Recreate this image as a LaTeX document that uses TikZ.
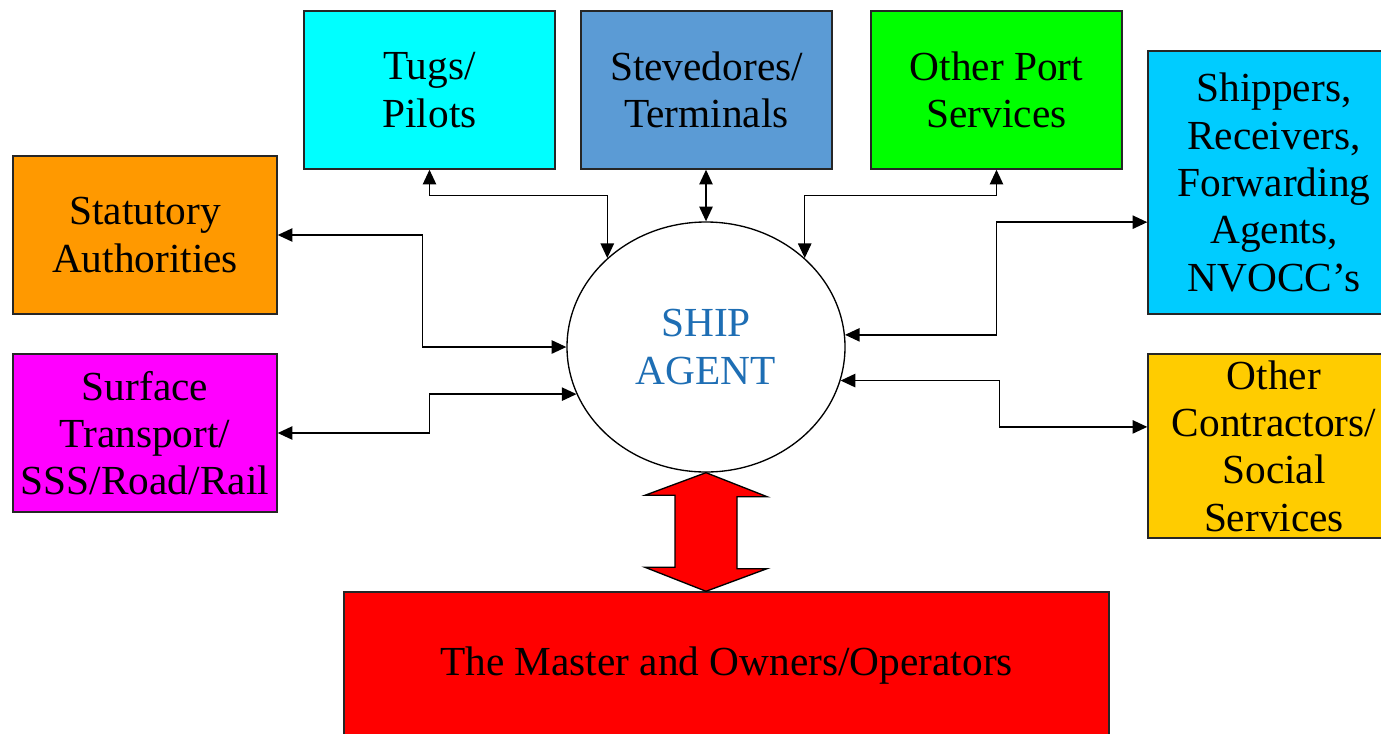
\documentclass[tikz,border=0pt]{standalone}
\usepackage{fontspec}
\setmainfont{Liberation Serif}
\usetikzlibrary{arrows.meta,calc,shapes.geometric}
\definecolor{cTug}{HTML}{00FFFF}
\definecolor{cStev}{HTML}{5B9BD5}
\definecolor{cPort}{HTML}{00FF00}
\definecolor{cShip}{HTML}{00CCFF}
\definecolor{cStat}{HTML}{FF9900}
\definecolor{cSurf}{HTML}{FF00FF}
\definecolor{cOC}{HTML}{FFCC00}
\definecolor{cMaster}{HTML}{FF0000}
\definecolor{cAgent}{RGB}{30,110,180}
\begin{document}
\begin{tikzpicture}[x=0.75pt,y=-0.75pt,
  box/.style={draw=black!85, line width=1.1pt, align=center, inner sep=0pt,
    font=\fontsize{31}{35.5}\selectfont},
  conn/.style={line width=1.1pt, {Triangle[length=11pt,width=10pt]}-{Triangle[length=11pt,width=10pt]}}]
\useasboundingbox (0,0) rectangle (1381,733);

\node[box, fill=cTug, minimum width=188.25pt, minimum height=118.5pt] (tugs) at (429.5,90) {Tugs/\\Pilots};
\node[box, fill=cStev, minimum width=188.25pt, minimum height=118.5pt] (stev) at (706.5,90) {Stevedores/\\Terminals};
\node[box, fill=cPort, minimum width=188.25pt, minimum height=118.5pt] (oport) at (996.5,90) {Other Port\\Services};
\node[box, fill=cShip, minimum width=189pt, minimum height=197.25pt] (ship) at (1274,182.5) {Shippers,\\Receivers,\\Forwarding\\Agents,\\NVOCC’s};
\node[box, fill=cStat, minimum width=198pt, minimum height=118.5pt] (stat) at (145,235) {Statutory\\Authorities};
\node[box, fill=cSurf, minimum width=198pt, minimum height=118.5pt] (surf) at (145,433) {Surface\\Transport/\\SSS/Road/Rail};
\node[box, fill=cOC, minimum width=189pt, minimum height=138pt] (oc) at (1274,446) {Other\\Contractors/\\Social\\Services};
\node[box, fill=cMaster, minimum width=573.75pt, minimum height=111pt] (master) at (726.5,666) {The Master and Owners/Operators};

\node[ellipse, draw=black, line width=1pt, fill=white, inner sep=0pt, minimum width=208.5pt, minimum height=187.5pt,
  align=center, text=cAgent, font=\fontsize{31}{35.5}\selectfont] (ag) at (706,347) {SHIP\\AGENT};

% big double arrow
\coordinate (t) at (ag.south);
\coordinate (b) at (ag.south |- master.north);
\draw[fill=cMaster, line width=1pt, line join=miter] (t) -- ++(61,24) -- ++(-30,0) -- ++(0,72) -- ++(30,0) -- (b)
  -- ++(-61,-24) -- ++(30,0) -- ++(0,-72) -- ++(-30,0) -- cycle;

% connectors
\draw[conn] (tugs.south) -- ++(0,26) -| (ag.138);
\draw[conn] (ag.north |- stev.south) -- (ag.north);
\draw[conn] (oport.south) -- ++(0,26) -| (ag.42);
\draw[conn] (stat.east) -- ++(145,0) |- (ag.west);
\draw[conn] (surf.east) -- ++(152,0) |- (ag.200);
\coordinate (shipin) at ($(ship.north west)!0.65!(ship.south west)$);
\draw[conn] (ag.5) -| ($(shipin)+(-151,0)$) -- (shipin);
\coordinate (ocin) at ($(oc.north west)!0.397!(oc.south west)$);
\draw[conn] (ag.-14) -| ($(ocin)+(-148,0)$) -- (ocin);
\end{tikzpicture}
\end{document}
